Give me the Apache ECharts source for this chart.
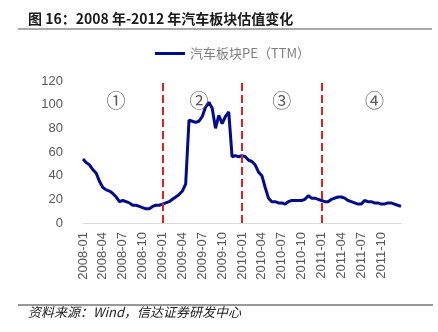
<!DOCTYPE html>
<html>
<head>
<meta charset="utf-8">
<style>
html,body{margin:0;padding:0;background:#fff;}
#chart{width:438px;height:332px;}
</style>
<script src="https://cdn.jsdelivr.net/npm/echarts@6/dist/echarts.min.js"></script>
</head>
<body>
<div id="chart"></div>
<script>
// Half-month sampling dates (1st and 16th of each month), 2008-01 .. 2011-12
var categories = [];
for (var y = 2008; y <= 2011; y++) {
  for (var m = 1; m <= 12; m++) {
    var mm = (m < 10 ? '0' : '') + m;
    categories.push(y + '-' + mm + '-01');
    categories.push(y + '-' + mm + '-16');
  }
}
categories.push('2011-12-31');

// 汽车板块PE（TTM）
var peValues = [
  54, 51, 49, 45, 42, 35, 30, 28, 27, 25, 22, 18,   // 2008 H1
  19, 18, 17, 15, 15, 14, 13, 12, 12, 14, 15, 15,   // 2008 H2
  16, 17, 18, 20, 22, 24, 27, 33, 87, 86, 85, 86,   // 2009 H1
  90, 98, 102, 97, 80, 91, 84, 90, 94, 56, 57, 56,  // 2009 H2
  57, 56, 53, 52, 49, 43, 40, 30, 21, 18, 18, 17,   // 2010 H1
  17, 16, 18, 19, 19, 19, 19, 20, 23, 21, 21, 20,   // 2010 H2
  19, 18, 18, 20, 21, 22, 22, 21, 19, 18, 17, 16,   // 2011 H1
  16, 19, 18, 18, 17, 17, 16, 16, 17, 17, 16, 15,   // 2011 H2
  14
];

var tickLabels = [
  '2008-01','2008-04','2008-07','2008-10',
  '2009-01','2009-04','2009-07','2009-10',
  '2010-01','2010-04','2010-07','2010-10',
  '2011-01','2011-04','2011-07','2011-10'
];

var periodLines = ['2009-01-01', '2010-01-01', '2011-01-01'];
var periodMarks = ['①', '②', '③', '④'];
var periodMarkDates = ['2008-06-01', '2009-06-16', '2010-07-01', '2011-09-01'];
var periodMarkLevel = 103;

var seriesName = '汽车板块PE（TTM）';
var titleText = '图 16：2008 年-2012 年汽车板块估值变化';
var sourceText = '资料来源：Wind，信达证券研发中心';

var chart = echarts.init(document.getElementById('chart'));
var cjk = "'Noto Sans CJK SC', 'Liberation Sans', sans-serif";
var latin = "'Liberation Sans', Arial, sans-serif";

chart.setOption({
  animation: false,
  backgroundColor: '#fff',
  grid: { left: 83, right: 37, top: 81, bottom: 109, containLabel: false },
  legend: {
    data: [seriesName],
    left: 150, top: 42,
    icon: 'rect', itemWidth: 30, itemHeight: 3, itemGap: 10,
    textStyle: { color: '#7f7f7f', fontSize: 13, fontFamily: cjk }
  },
  xAxis: {
    type: 'category',
    data: categories,
    boundaryGap: false,
    axisLine: { show: true, lineStyle: { color: '#d9d9d9', width: 1 } },
    axisTick: { show: false },
    splitLine: { show: false },
    axisLabel: {
      rotate: 90,
      margin: 9,
      color: '#595959',
      fontSize: 13,
      fontFamily: latin,
      interval: function (idx) { return idx % 6 === 0 && idx / 6 < tickLabels.length; },
      formatter: function (val, idx) { return tickLabels[idx / 6] || ''; }
    }
  },
  yAxis: {
    type: 'value',
    min: 0, max: 120, interval: 20,
    axisLine: { show: false },
    axisTick: { show: false },
    splitLine: { show: false },
    axisLabel: { color: '#595959', fontSize: 13, fontFamily: latin, margin: 20 }
  },
  series: [{
    name: seriesName,
    type: 'line',
    data: peValues,
    showSymbol: false,
    symbol: 'none',
    smooth: false,
    lineStyle: { color: '#000c8c', width: 3 },
    itemStyle: { color: '#000c8c' },
    markLine: {
      silent: true,
      symbol: 'none',
      label: { show: false },
      lineStyle: { color: '#e02020', type: [8, 4], width: 2 },
      data: periodLines.map(function (d) { return { xAxis: d }; })
    },
    markPoint: {
      silent: true,
      symbol: 'circle',
      symbolSize: 0,
      label: {
        show: true,
        position: 'inside',
        fontSize: 19,
        color: '#595959',
        fontFamily: cjk,
        formatter: function (p) { return p.name; }
      },
      data: periodMarks.map(function (t, i) {
        return { name: t, coord: [periodMarkDates[i], periodMarkLevel] };
      })
    }
  }],
  graphic: [
    { type: 'text', left: 28, top: 12,
      style: { text: titleText, font: 'bold 14px ' + cjk, fill: '#1a1a1a' } },
    { type: 'line', shape: { x1: 18, y1: 29, x2: 432, y2: 29 },
      style: { stroke: '#8c8c8c', lineWidth: 1.5 } },
    { type: 'line', shape: { x1: 18, y1: 305, x2: 433, y2: 305 },
      style: { stroke: '#333', lineWidth: 1 } },
    { type: 'text', left: 28, top: 306,
      style: { text: sourceText, font: 'italic 13px ' + cjk, fill: '#222' } }
  ]
});
</script>
</body>
</html>
